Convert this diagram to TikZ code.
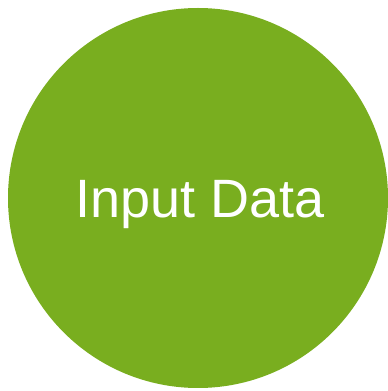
\documentclass[tikz,border=0pt]{standalone}
\usepackage{fontspec}
\setmainfont{Liberation Sans}
\definecolor{datagreen}{HTML}{79AE1F}
\tikzset{Bubble/.style={circle, fill=#1, draw=none, inner sep=0pt, minimum size=380pt}}

\begin{document}
\begin{tikzpicture}[x=1pt, y=1pt, Label/.style={text=white, font=\fontsize{54}{60}\selectfont, inner sep=0pt}]
        \useasboundingbox (0,0) rectangle (388,391);
        \node[Bubble=datagreen] (D) at (198,193){};
        \node[Label, anchor=base] (T) at (200,173){Input Data};
    \end{tikzpicture}
\end{document}
